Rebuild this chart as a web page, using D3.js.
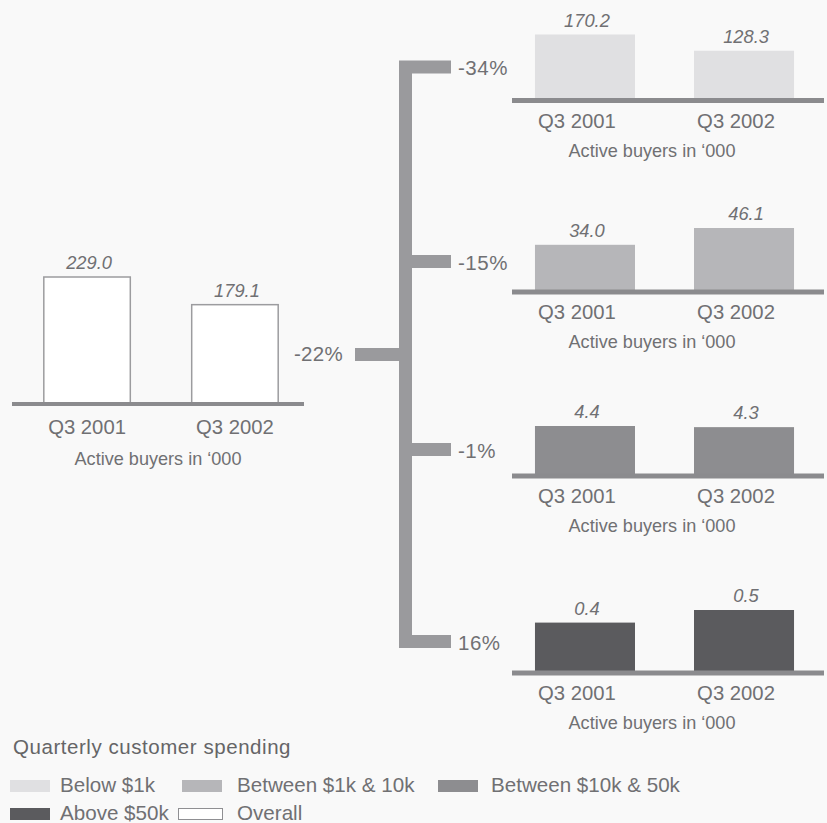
<!DOCTYPE html>
<html><head><meta charset="utf-8">
<script src="https://cdn.jsdelivr.net/npm/d3@7"></script>
<style>
html,body{margin:0;padding:0;background:#f9f9f9;}
svg{display:block;font-family:"Liberation Sans",Arial,sans-serif;}
</style></head>
<body><svg id="c" width="827" height="823"></svg>
<script>
// ---- data ----
const periods = ["Q3 2001", "Q3 2002"];
const overallValues = [229.0, 179.1];
const segments = ["Below $1k", "Between $1k & 10k", "Between $10k & 50k", "Above $50k"];
const segmentValues = [
  [170.2, 128.3],
  [34.0, 46.1],
  [4.4, 4.3],
  [0.4, 0.5]
];
const segmentChanges = ["-34%", "-15%", "-1%", "16%"];
const overallChange = "-22%";
const axisTitle = "Active buyers in \u2018000";
const legendTitle = "Quarterly customer spending";
const overallLabel = "Overall";

// ---- styles ----
const segColors = ["#e0e0e2", "#b6b6b9", "#8d8d90", "#5b5b5e"];
const lineColor = "#8b8b8e";
const connColor = "#9a9a9d";
const textColor = "#707073";

const svg = d3.select("#c");

function panel(cfg) {
  const g = svg.append("g");
  const x = d3.scaleBand().domain(periods).range(cfg.xr).paddingInner(cfg.pi).paddingOuter(cfg.po);
  const y = d3.scaleLinear().domain([0, d3.max(cfg.values)]).range([cfg.base, cfg.base - cfg.hmax]);
  g.selectAll("rect.bar").data(cfg.values).join("rect")
    .attr("class", "bar")
    .attr("x", (d, i) => x(periods[i]) + (cfg.outline ? 0.75 : 0))
    .attr("width", x.bandwidth() - (cfg.outline ? 1.5 : 0))
    .attr("y", d => y(d))
    .attr("height", d => cfg.base - y(d))
    .attr("fill", cfg.fill)
    .attr("stroke", cfg.outline ? "#9c9c9f" : "none")
    .attr("stroke-width", cfg.outline ? 1.5 : 0);
  g.append("rect").attr("x", cfg.lx[0]).attr("width", cfg.lx[1] - cfg.lx[0])
    .attr("y", cfg.base - cfg.lw / 2).attr("height", cfg.lw).attr("fill", lineColor);
  g.selectAll("text.val").data(cfg.values).join("text")
    .attr("class", "val")
    .attr("x", (d, i) => x(periods[i]) + x.bandwidth() / 2 + 2)
    .attr("y", d => y(d) - 8)
    .attr("text-anchor", "middle")
    .attr("font-style", "italic")
    .attr("font-size", 18.3)
    .attr("fill", textColor)
    .text(d => d.toFixed(1));
  g.selectAll("text.cat").data(periods).join("text")
    .attr("class", "cat")
    .attr("x", d => x(d) + x.bandwidth() / 2 + cfg.catDx)
    .attr("y", cfg.base + cfg.catDy)
    .attr("text-anchor", "middle")
    .attr("font-size", 20.3)
    .attr("fill", textColor)
    .text(d => d);
  g.append("text")
    .attr("x", cfg.titleX)
    .attr("y", cfg.base + cfg.titleDy)
    .attr("text-anchor", "middle")
    .attr("font-size", 18.1)
    .attr("fill", textColor)
    .text(axisTitle);
}

// overall panel
panel({values: overallValues, xr: [12, 310], pi: 0.405, po: 0.21, base: 404, hmax: 127,
  fill: "#ffffff", outline: true, lx: [12, 304], lw: 4, catDx: 0, catDy: 30, titleX: 158, titleDy: 61});

// segment panels
const segBases = [100.5, 292, 476, 673];
const segHmax = [66, 64, 50, 63];
const stubY = [67, 261.5, 449.5, 641.5];
segments.forEach((s, i) => {
  panel({values: segmentValues[i], xr: [510, 819], pi: 0.371, po: 0.157, base: segBases[i], hmax: segHmax[i],
    fill: segColors[i], outline: false, lx: [512, 824], lw: 5, catDx: -8, catDy: 27, titleX: 652, titleDy: 56});
});

// connector
const conn = svg.append("g").attr("fill", connColor);
conn.append("rect").attr("x", 399).attr("width", 13).attr("y", stubY[0] - 6.5)
  .attr("height", stubY[3] - stubY[0] + 13);
conn.selectAll("rect.stub").data(stubY).join("rect").attr("class", "stub")
  .attr("x", 412).attr("width", 39).attr("y", d => d - 6.5).attr("height", 13);
conn.append("rect").attr("x", 355).attr("width", 44).attr("y", 348).attr("height", 13);

svg.selectAll("text.pct").data(segmentChanges).join("text").attr("class", "pct")
  .attr("x", 458).attr("y", (d, i) => stubY[i] + 8)
  .attr("font-size", 20.5).attr("letter-spacing", 0.5).attr("fill", textColor).text(d => d);
svg.append("text").attr("x", 343).attr("y", 361).attr("text-anchor", "end")
  .attr("font-size", 20.5).attr("letter-spacing", 0.3).attr("fill", textColor).text(overallChange);

// legend
svg.append("text").attr("x", 13).attr("y", 754).attr("font-size", 20.5).attr("letter-spacing", 0.55)
  .attr("fill", "#656567").text(legendTitle);
const legendItems = segments.map((s, i) => ({label: s, fill: segColors[i], outline: false}))
  .concat([{label: overallLabel, fill: "#ffffff", outline: true}]);
// [swatch x, swatch top, swatch width, text x, text baseline]
const legPos = [[10, 780, 40, 60, 792], [182, 780, 40, 237, 792], [438, 780, 40, 491, 792],
                [10, 808, 40, 60, 820], [178, 808, 45, 237, 820]];
const lg = svg.append("g");
legendItems.forEach((it, i) => {
  const [sx, sy, sw, tx, ty] = legPos[i];
  lg.append("rect").attr("x", sx + (it.outline ? 0.5 : 0)).attr("y", sy + (it.outline ? 0.5 : 0))
    .attr("width", sw - (it.outline ? 1 : 0)).attr("height", 12 - (it.outline ? 1 : 0))
    .attr("fill", it.fill).attr("stroke", it.outline ? "#8f8f92" : "none");
  lg.append("text").attr("x", tx).attr("y", ty).attr("font-size", 20.6)
    .attr("fill", textColor).text(it.label);
});
</script>
</body></html>
